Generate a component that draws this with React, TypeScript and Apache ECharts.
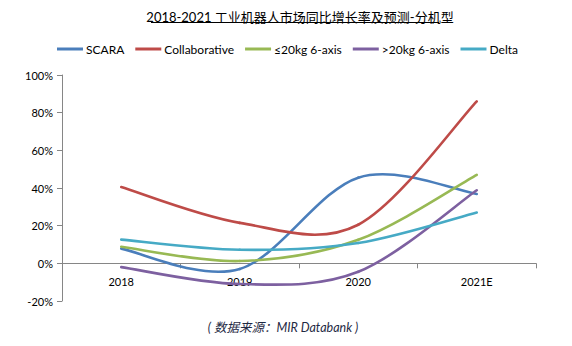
import React, { useEffect, useRef } from "react";
import * as echarts from "echarts";

const categories = ["2018", "2019", "2020", "2021E"];
const seriesNames = ["SCARA", "Collaborative", "≤20kg 6-axis", ">20kg 6-axis", "Delta"];
const scara = [7.8, -3, 45.5, 36.8];
const collaborative = [40.5, 21.5, 20.5, 86];
const small6axis = [8.8, 1.2, 12.5, 47];
const large6axis = [-2, -11, -4.5, 38.8];
const delta = [12.6, 7.2, 10.8, 27];
const colors = ["#4A7EBB", "#BE4B48", "#98B954", "#7D60A0", "#46AAC5"];
const titleText = "2018-2021 工业机器人市场同比增长率及预测-分机型";
const sourceText = "( 数据来源：MIR Databank )";

const FONT = "Lato, 'Noto Sans CJK SC', sans-serif";

function makeRenderer(vals: number[], color: string) {
  return (params: any, api: any) => {
    const i = params.dataIndex;
    const n = vals.length;
    if (i >= n - 1) return { type: "group", children: [] };
    const pt = (k: number) => {
      const kk = Math.max(0, Math.min(n - 1, k));
      return api.coord([kk, vals[kk]]);
    };
    const p0 = pt(i - 1);
    const p1 = pt(i);
    const p2 = pt(i + 1);
    const p3 = pt(i + 2);
    const c1x = p1[0] + (p2[0] - p0[0]) / 6;
    const c1y = p1[1] + (p2[1] - p0[1]) / 6;
    const c2x = p2[0] - (p3[0] - p1[0]) / 6;
    const c2y = p2[1] - (p3[1] - p1[1]) / 6;
    return {
      type: "bezierCurve",
      shape: { x1: p1[0], y1: p1[1], x2: p2[0], y2: p2[1], cpx1: c1x, cpy1: c1y, cpx2: c2x, cpy2: c2y },
      style: { stroke: color, lineWidth: 2.6, fill: null, lineCap: "round" },
    };
  };
}

export default function App() {
  const ref = useRef<HTMLDivElement>(null);
  useEffect(() => {
    if (!ref.current) return;
    const chart = echarts.init(ref.current, null, { renderer: "svg" });
    const values = [scara, collaborative, small6axis, large6axis, delta];
    chart.setOption({
      animation: false,
      backgroundColor: "#ffffff",
      textStyle: { fontFamily: FONT },
      title: {
        text: titleText,
        left: 295,
        textAlign: "center",
        top: 5,
        textStyle: { fontSize: 13, fontWeight: "normal", color: "#000", fontFamily: FONT },
      },
      graphic: [
        {
          type: "line",
          shape: { x1: 151, y1: 22.5, x2: 439, y2: 22.5 },
          style: { stroke: "#000", lineWidth: 1 },
        },
        {
          type: "text",
          x: 283,
          y: 327,
          style: {
            text: sourceText,
            fontSize: 12.5,
            fontStyle: "italic",
            fill: "#1F2A44",
            align: "center",
            verticalAlign: "middle",
            fontFamily: FONT,
          },
        },
      ],
      legend: {
        top: 38,
        left: 52,
        itemWidth: 26,
        itemHeight: 3,
        itemGap: 11,
        icon: "rect",
        textStyle: { fontSize: 12, color: "#000", fontFamily: FONT, padding: [0, 0, 0, -2] },
        data: seriesNames,
      },
      grid: { left: 62, right: 36, top: 75, bottom: 45, containLabel: false },
      xAxis: {
        type: "category",
        data: categories,
        boundaryGap: true,
        axisLine: { onZero: true, lineStyle: { color: "#868686", width: 1 } },
        axisTick: { show: true, alignWithLabel: false, length: 5, lineStyle: { color: "#868686" } },
        axisLabel: { color: "#000", fontSize: 11, margin: -25, fontFamily: FONT },
        splitLine: { show: false },
      },
      yAxis: {
        type: "value",
        min: -20,
        max: 100,
        interval: 20,
        axisLine: { show: true, lineStyle: { color: "#868686", width: 1 } },
        axisTick: { show: true, length: 5, lineStyle: { color: "#868686" } },
        axisLabel: { formatter: "{value}%", color: "#000", fontSize: 11, margin: 9, fontFamily: FONT },
        splitLine: { show: false },
      },
      series: seriesNames.map((name, i) => ({
        name,
        type: "custom",
        renderItem: makeRenderer(values[i], colors[i]),
        data: values[i].map((v, k) => [k, v]),
        encode: { x: 0, y: 1 },
        itemStyle: { color: colors[i] },
        z: 2,
      })),
    });
    return () => chart.dispose();
  }, []);
  return <div ref={ref} style={{ width: 572, height: 346, margin: -8 }} />;
}
